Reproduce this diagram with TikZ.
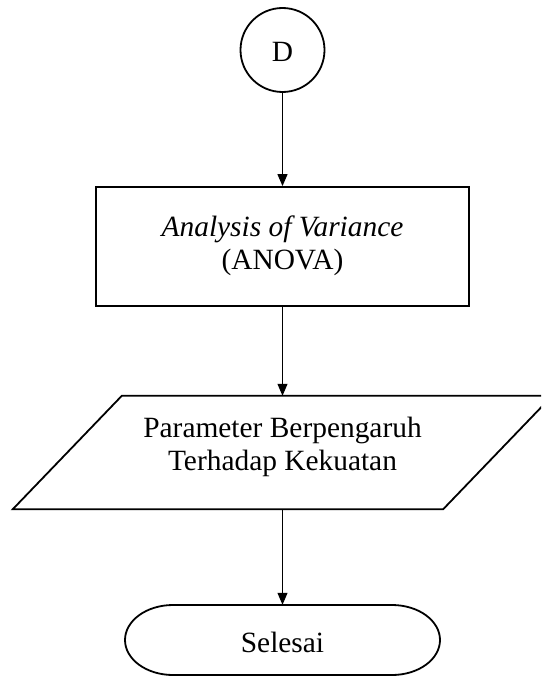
\documentclass[tikz,border=0pt]{standalone}
\usepackage{fontspec}
\setmainfont{Liberation Serif}
\usetikzlibrary{arrows.meta,shapes.geometric}
\begin{document}
\begin{tikzpicture}[x=1pt,y=-1pt,
  shapeline/.style={draw=black,line width=1.8pt},
  txt/.style={font=\fontsize{29.4}{32.5}\selectfont,align=center,inner sep=0pt},
  conn/.style={draw=black,line width=1.1pt,-{Triangle[length=12pt,width=10pt]}}]
\useasboundingbox (0,0) rectangle (541,677);
\clip (0,0) rectangle (541,677);
% start connector
\node[shapeline,circle,minimum size=84pt,inner sep=0pt,txt] (d) at (282.5,50) {};
\node[txt] (dt) at (282.5,52) {D};
% process box
\node[shapeline,rectangle,minimum width=373pt,minimum height=119pt,inner sep=0pt] (r) at (282.5,246.5) {};
\node[txt] (rt) at (282.5,246) {\textit{Analysis of Variance}\\(ANOVA)};
% data (parallelogram)
\node[rectangle,minimum width=539pt,minimum height=113pt,inner sep=0pt] (p) at (282.5,452.5) {};
\draw[shapeline,line join=miter] (p.south west) -- ([xshift=-109pt]p.south east) -- (p.north east) -- ([xshift=109pt]p.north west) -- cycle;
\node[txt] (pt) at (282.5,447) {Parameter Berpengaruh\\Terhadap Kekuatan};
% terminal
\node[rectangle,minimum width=315pt,minimum height=70pt,inner sep=0pt] (s) at (282.5,640) {};
\draw[shapeline] (173,605) -- (392,605) arc[start angle=-90,end angle=90,x radius=48,y radius=35] -- (173,675) arc[start angle=90,end angle=270,x radius=48,y radius=35] -- cycle;
\node[txt] (st) at (282.5,642) {Selesai};
% connectors
\draw[conn] (d.south) -- (r.north);
\draw[conn] (r.south) -- (p.north);
\draw[conn] (p.south) -- (s.north);
\end{tikzpicture}
\end{document}
